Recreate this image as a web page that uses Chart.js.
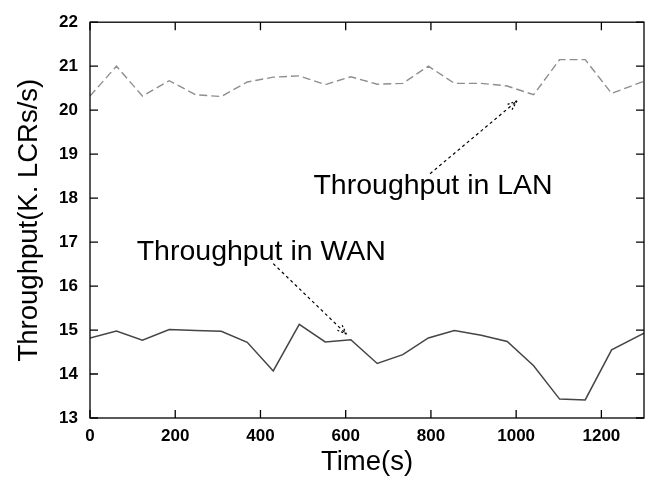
<!DOCTYPE html>
<html>
<head>
<meta charset="utf-8">
<title>Throughput</title>
<script src="https://cdn.jsdelivr.net/npm/chart.js@4/dist/chart.umd.min.js"></script>
<style>
    html, body { margin: 0; padding: 0; background: #fff; }
    #wrap { width: 647px; height: 479px; }
</style>
</head>
<body>
<div id="wrap"><canvas id="chartThroughput"></canvas></div>
<script>
// --- DATA ---
const times = [0, 62, 123, 186, 248, 308, 369, 430, 491, 552, 612, 674, 734, 794, 855, 918, 979, 1041, 1102, 1162, 1224, 1300];
const lanThroughput = [20.32, 21.0, 20.32, 20.67, 20.35, 20.31, 20.64, 20.75, 20.78, 20.58, 20.76, 20.59, 20.61, 21.0, 20.61, 20.61, 20.55, 20.35, 21.15, 21.15, 20.38, 20.66];
const wanThroughput = [14.82, 14.98, 14.77, 15.01, 14.99, 14.97, 14.72, 14.07, 15.13, 14.73, 14.78, 14.24, 14.44, 14.82, 14.99, 14.88, 14.74, 14.19, 13.43, 13.41, 14.55, 14.93];
const xTicks = [0, 200, 400, 600, 800, 1000, 1200];
const yTicks = [13, 14, 15, 16, 17, 18, 19, 20, 21, 22];

// labels + arrows, in data units
const notes = [
    { text: 'Throughput in LAN', x: 805, y: 18.09, from: [798, 18.555], to: [1002, 20.21] },
    { text: 'Throughput in WAN', x: 402, y: 16.59, from: [430, 16.51], to: [602, 14.905] }
];

const FONT = '"Liberation Sans", Arial, Helvetica, sans-serif';

document.addEventListener('DOMContentLoaded', function() {

    const toPoints = (vals) => times.map((t, i) => ({ x: t, y: vals[i] }));

    // frame with inward ticks on all four sides (gnuplot look)
    const framePlugin = {
        id: 'frame',
        afterDatasetsDraw(chart) {
            const { ctx, chartArea: a, scales: { x, y } } = chart;
            const len = 8;
            ctx.save();
            ctx.strokeStyle = '#000';
            ctx.lineWidth = 1.3;
            ctx.setLineDash([]);
            ctx.strokeRect(a.left, a.top, a.right - a.left, a.bottom - a.top);
            ctx.beginPath();
            xTicks.forEach(v => {
                const px = x.getPixelForValue(v);
                ctx.moveTo(px, a.bottom); ctx.lineTo(px, a.bottom - len);
                ctx.moveTo(px, a.top); ctx.lineTo(px, a.top + len);
            });
            yTicks.forEach(v => {
                const py = y.getPixelForValue(v);
                ctx.moveTo(a.left, py); ctx.lineTo(a.left + len, py);
                ctx.moveTo(a.right, py); ctx.lineTo(a.right - len, py);
            });
            ctx.stroke();
            ctx.restore();
        }
    };

    const notesPlugin = {
        id: 'notes',
        afterDraw(chart) {
            const { ctx, scales: { x, y } } = chart;
            ctx.save();
            ctx.fillStyle = '#000';
            ctx.font = '28.5px ' + FONT;
            ctx.textAlign = 'center';
            ctx.textBaseline = 'alphabetic';
            notes.forEach(n => {
                ctx.fillText(n.text, x.getPixelForValue(n.x), y.getPixelForValue(n.y));

                const x0 = x.getPixelForValue(n.from[0]), y0 = y.getPixelForValue(n.from[1]);
                const x1 = x.getPixelForValue(n.to[0]), y1 = y.getPixelForValue(n.to[1]);
                const ang = Math.atan2(y1 - y0, x1 - x0);
                ctx.strokeStyle = '#000';
                ctx.lineWidth = 1.2;
                ctx.setLineDash([3, 3]);
                ctx.beginPath();
                ctx.moveTo(x0, y0); ctx.lineTo(x1, y1);
                ctx.stroke();
                // arrow head
                ctx.setLineDash([2, 2]);
                ctx.beginPath();
                [0.35, -0.35].forEach(d => {
                    ctx.moveTo(x1, y1);
                    ctx.lineTo(x1 - 11 * Math.cos(ang + d), y1 - 11 * Math.sin(ang + d));
                });
                ctx.stroke();
            });
            ctx.restore();
        }
    };

    const tickFont = { family: FONT, size: 17, weight: 'bold' };
    const titleFont = { family: FONT, size: 27.5 };

    const ctx = document.getElementById('chartThroughput').getContext('2d');
    new Chart(ctx, {
        type: 'line',
        data: {
            datasets: [
                {
                    label: 'LAN',
                    data: toPoints(lanThroughput),
                    borderColor: '#8e8e8e',
                    borderWidth: 1.4,
                    borderDash: [8, 4],
                    pointRadius: 0,
                    tension: 0,
                    fill: false
                },
                {
                    label: 'WAN',
                    data: toPoints(wanThroughput),
                    borderColor: '#454545',
                    borderWidth: 1.5,
                    pointRadius: 0,
                    tension: 0,
                    fill: false
                }
            ]
        },
        options: {
            responsive: true,
            maintainAspectRatio: false,
            animation: false,
            layout: { padding: { top: 15, right: 3, left: 0, bottom: 0 } },
            plugins: { legend: { display: false }, tooltip: { enabled: false } },
            scales: {
                x: {
                    type: 'linear',
                    min: 0, max: 1300,
                    afterFit: (s) => { s.height = 61; },
                    afterBuildTicks: (s) => { s.ticks = xTicks.map(v => ({ value: v })); },
                    grid: { display: false, drawTicks: false },
                    border: { display: false },
                    ticks: { padding: 8, color: '#000', font: tickFont, maxRotation: 0, callback: (v) => String(v) },
                    title: { display: true, text: 'Time(s)', color: '#000', font: titleFont, padding: { top: 0, bottom: 0.5 } }
                },
                y: {
                    min: 13, max: 22,
                    afterFit: (s) => { s.width = 90; },
                    afterBuildTicks: (s) => { s.ticks = yTicks.map(v => ({ value: v })); },
                    grid: { display: false, drawTicks: false },
                    border: { display: false },
                    ticks: { padding: 12, color: '#000', font: tickFont, callback: (v) => String(v) },
                    title: { display: true, text: 'Throughput(K. LCRs/s)', color: '#000', font: titleFont, padding: { top: 13, bottom: 0 } }
                }
            }
        },
        plugins: [framePlugin, notesPlugin]
    });
});
</script>
</body>
</html>
